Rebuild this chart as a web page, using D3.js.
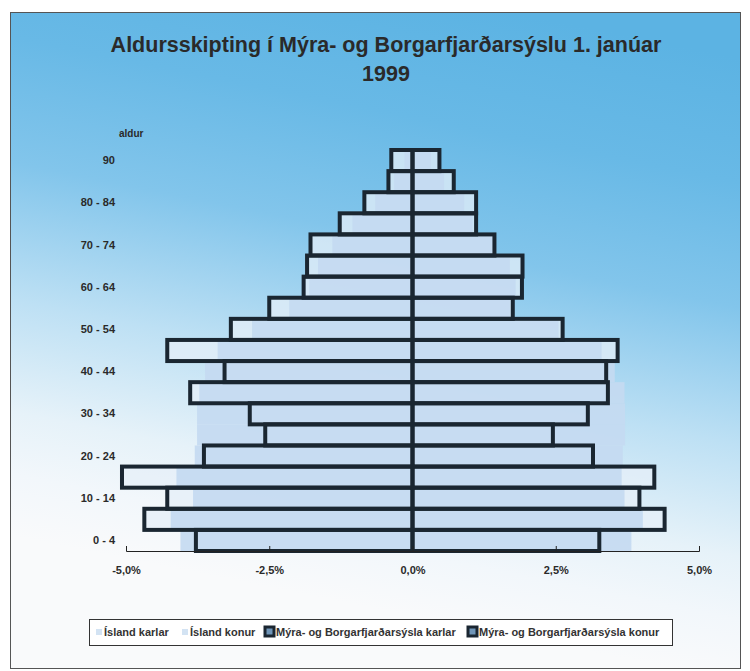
<!DOCTYPE html>
<html>
<head>
<meta charset="utf-8">
<script src="https://cdn.jsdelivr.net/npm/d3@7"></script>
<style>
  body { margin: 0; background: #fff; }
  text { font-family: "Liberation Sans", Arial, sans-serif; }
</style>
</head>
<body>
<svg width="750" height="671"></svg>
<script>
// aldurshopar, fra yngstu til elstu
var aldur = ["0 - 4", "5 - 9", "10 - 14", "15 - 19", "20 - 24", "25 - 29", "30 - 34", "35 - 39",
  "40 - 44", "45 - 49", "50 - 54", "55 - 59", "60 - 64", "65 - 69", "70 - 74", "75 - 79",
  "80 - 84", "85 - 89", "90"];
var aldurMerki = ["0 - 4", "10 - 14", "20 - 24", "30 - 34", "40 - 44", "50 - 54", "60 - 64", "70 - 74", "80 - 84", "90"];

// hlutfall af ibuafjolda, %
var islandKarlar = [4.05, 4.22, 3.83, 4.12, 3.80, 3.76, 3.76, 3.72, 3.62, 3.40, 2.80, 2.15, 1.80, 1.65, 1.40, 1.05, 0.65, 0.32, 0.14];
var islandKonur = [3.82, 4.02, 3.70, 3.65, 3.67, 3.71, 3.71, 3.70, 3.53, 3.30, 2.55, 1.70, 1.80, 1.70, 1.40, 1.05, 0.90, 0.55, 0.32];
var myraKarlar = [3.78, 4.68, 4.28, 5.07, 3.64, 2.57, 2.84, 3.88, 3.28, 4.28, 3.17, 2.50, 1.90, 1.84, 1.78, 1.27, 0.84, 0.42, 0.37];
var myraKonur = [3.26, 4.40, 3.96, 4.22, 3.15, 2.45, 3.06, 3.41, 3.38, 3.58, 2.62, 1.75, 1.91, 1.92, 1.43, 1.11, 1.11, 0.72, 0.47];

var xTicks = [-5, -2.5, 0, 2.5, 5];
var titill = ["Aldursskipting í Mýra- og Borgarfjarðarsýslu 1. janúar", "1999"];
var skyringar = ["Ísland karlar", "Ísland konur", "Mýra- og Borgarfjarðarsýsla karlar", "Mýra- og Borgarfjarðarsýsla konur"];

var svg = d3.select("svg");
var dokkur = "#1a2631";

// bakgrunnur
var defs = svg.append("defs");
var grad = defs.append("linearGradient")
  .attr("id", "bak")
  .attr("gradientUnits", "userSpaceOnUse")
  .attr("x1", 450).attr("y1", 0)
  .attr("x2", 330).attr("y2", 600);
[[0, "#5cb3e3"], [0.2, "#68b9e6"], [0.4, "#82c5eb"], [0.62, "#bde0f4"], [0.8, "#e6f2f9"], [0.9, "#f2f7fb"], [1, "#f9fafb"]].forEach(function(s) {
  grad.append("stop").attr("offset", s[0]).attr("stop-color", s[1]);
});

svg.append("rect")
  .attr("x", 10.5).attr("y", 12.5)
  .attr("width", 730).attr("height", 656)
  .attr("fill", "url(#bak)")
  .attr("stroke", "#555")
  .attr("stroke-width", 1);

// titill
svg.selectAll(".titill")
  .data(titill)
  .enter().append("text")
  .attr("class", "titill")
  .attr("x", 386)
  .attr("y", function(d, i) { return 52 + i * 29; })
  .attr("text-anchor", "middle")
  .style("font-size", "21.5px")
  .style("font-weight", "bold")
  .attr("fill", "#2a2a2a")
  .text(function(d) { return d; });

var x = d3.scaleLinear().domain([-5, 5]).range([126, 699]);
var y = d3.scaleBand().domain(aldur.slice().reverse()).range([150, 551]).padding(0);

var rows = aldur.map(function(a, i) {
  return {aldur: a, ik: islandKarlar[i], ikon: islandKonur[i], mk: myraKarlar[i], mkon: myraKonur[i]};
});

function bar(g, key, sign) {
  return g.selectAll("rect")
    .data(rows)
    .enter().append("rect")
    .attr("x", function(d) { return sign < 0 ? x(-d[key]) : x(0); })
    .attr("width", function(d) { return x(d[key]) - x(0); })
    .attr("y", function(d) { return y(d.aldur); })
    .attr("height", y.bandwidth());
}

// fylling Myra- og Borgarfjardarsyslu
var gFill = svg.append("g");
bar(gFill.append("g"), "mk", -1).attr("fill", "#e6eff8").attr("fill-opacity", 0.75);
bar(gFill.append("g"), "mkon", 1).attr("fill", "#e6eff8").attr("fill-opacity", 0.75);

// Island
var gIs = svg.append("g");
bar(gIs.append("g"), "ik", -1).attr("fill", "#c4daf1").attr("fill-opacity", 0.92);
bar(gIs.append("g"), "ikon", 1).attr("fill", "#c4daf1").attr("fill-opacity", 0.92);

// utlinur Myra- og Borgarfjardarsyslu
var gOut = svg.append("g");
bar(gOut.append("g"), "mk", -1).attr("fill", "none").attr("stroke", dokkur).attr("stroke-width", 4);
bar(gOut.append("g"), "mkon", 1).attr("fill", "none").attr("stroke", dokkur).attr("stroke-width", 4);

// asar
var loc = d3.formatLocale({decimal: ",", thousands: ".", grouping: [3], currency: ["", ""], minus: "-"});
var fmt = loc.format(".1f");

var xAxis = svg.append("g")
  .attr("transform", "translate(0,551)")
  .call(d3.axisBottom(x)
    .tickValues(xTicks)
    .tickSizeInner(-5)
    .tickSizeOuter(-5)
    .tickPadding(15)
    .tickFormat(function(d) { return fmt(d) + "%"; }));
xAxis.selectAll("path, line").attr("stroke", "#222").attr("stroke-width", 1);
xAxis.selectAll("text")
  .attr("fill", "#2a2a2a")
  .style("font-size", "11px")
  .style("font-weight", "bold")
  .style("font-family", "'Liberation Sans', Arial, sans-serif");

var yAxis = svg.append("g")
  .attr("transform", "translate(115,0)")
  .call(d3.axisLeft(y).tickValues(aldurMerki).tickSize(0).tickPadding(0));
yAxis.select(".domain").remove();
yAxis.selectAll("text")
  .attr("fill", "#2a2a2a")
  .style("font-size", "11px")
  .style("font-weight", "bold")
  .style("font-family", "'Liberation Sans', Arial, sans-serif");

svg.append("text")
  .attr("x", 119).attr("y", 137)
  .style("font-size", "10px")
  .style("font-weight", "bold")
  .attr("fill", "#2a2a2a")
  .text("aldur");

// skyringar
var leg = svg.append("g");
leg.append("rect")
  .attr("x", 89.5).attr("y", 619.5)
  .attr("width", 583).attr("height", 26)
  .attr("fill", "#fff")
  .attr("stroke", "#333")
  .attr("stroke-width", 1);

var legX = [96, 182, 264, 467];
var legItems = leg.selectAll(".item")
  .data(skyringar)
  .enter().append("g")
  .attr("class", "item")
  .attr("transform", function(d, i) { return "translate(" + legX[i] + ",632)"; });

legItems.append("rect")
  .attr("x", function(d, i) { return i < 2 ? 0 : 1; })
  .attr("y", function(d, i) { return i < 2 ? -3 : -5; })
  .attr("width", function(d, i) { return i < 2 ? 6 : 9; })
  .attr("height", function(d, i) { return i < 2 ? 6 : 9; })
  .attr("fill", function(d, i) { return i < 2 ? "#d3e3f3" : "#6f95b8"; })
  .attr("stroke", function(d, i) { return i < 2 ? "none" : dokkur; })
  .attr("stroke-width", 3);

legItems.append("text")
  .attr("x", function(d, i) { return i < 2 ? 8 : 12; })
  .attr("dy", "0.35em")
  .style("font-size", "11px")
  .style("font-weight", "bold")
  .attr("fill", "#333")
  .text(function(d) { return d; });
</script>
</body>
</html>
